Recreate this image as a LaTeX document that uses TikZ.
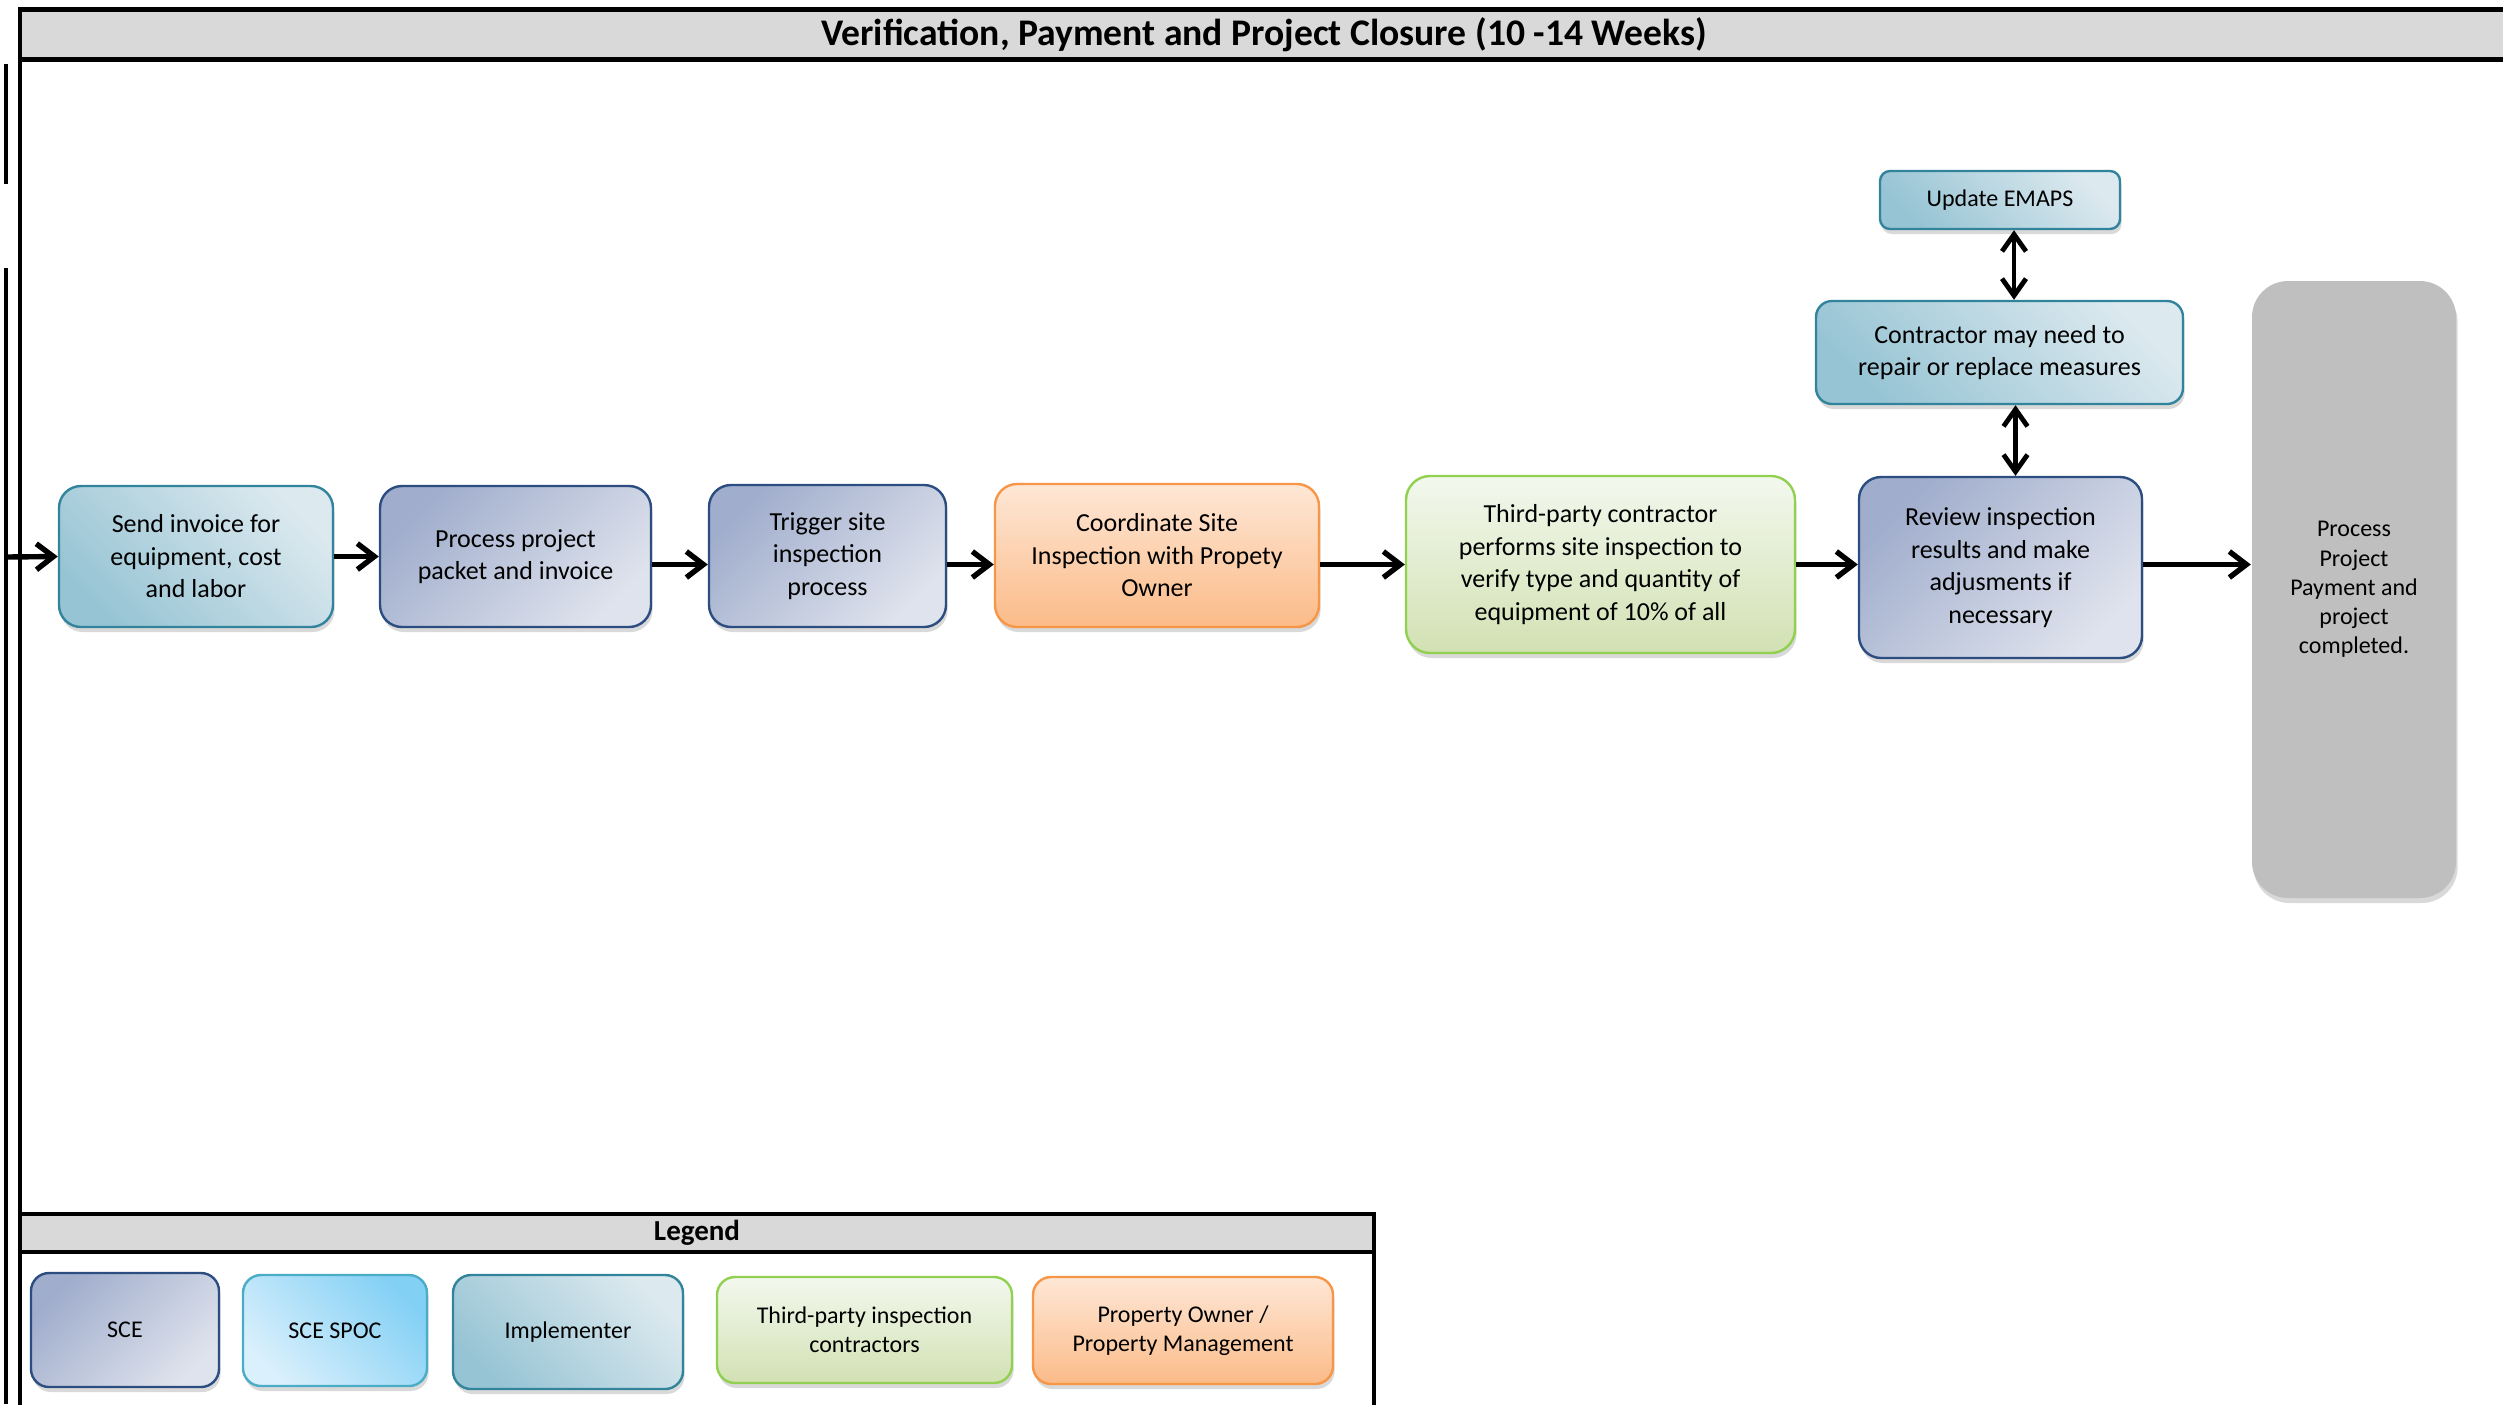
\documentclass[tikz,border=0pt]{standalone}
\usepackage{fontspec}
\setmainfont{Carlito}
\usetikzlibrary{arrows.meta,shadows,calc}
\definecolor{sceB}{HTML}{2C4D7F}
\definecolor{sceD}{HTML}{A0ADCC}
\definecolor{sceL}{HTML}{DFE3ED}
\definecolor{impB}{HTML}{31849B}
\definecolor{impD}{HTML}{97C4D4}
\definecolor{impL}{HTML}{DCE9EF}
\definecolor{spB}{HTML}{4BACC6}
\definecolor{spD}{HTML}{83D0F5}
\definecolor{spL}{HTML}{DAF0FC}
\definecolor{grnB}{HTML}{92D050}
\definecolor{grnT}{HTML}{F3F8EE}
\definecolor{grnL}{HTML}{D2E1B3}
\definecolor{orgB}{HTML}{F79646}
\definecolor{orgT}{HTML}{FEE7D6}
\definecolor{orgL}{HTML}{FBBB88}
\definecolor{grayBox}{HTML}{BFBFBF}
\definecolor{hdr}{HTML}{D9D9D9}
\begin{document}
\begin{tikzpicture}[x=0.5pt,y=-0.5pt,
  box/.style={rounded corners=11pt, line width=1.2pt, inner sep=0pt, align=center,
    font=\fontsize{13}{16.25}\selectfont,
    drop shadow={shadow xshift=0.8pt, shadow yshift=-2.5pt, opacity=0.3}},
  lbox/.style={box, rounded corners=9pt, font=\fontsize{12}{14.5}\selectfont},
  sce/.style={draw=sceB, top color=sceD, bottom color=sceL, shading angle=45},
  imp/.style={draw=impB, top color=impL, bottom color=impD, shading angle=-45},
  spoc/.style={draw=spB, top color=spD, bottom color=spL, shading angle=-45},
  grn/.style={draw=grnB, top color=grnT, bottom color=grnL},
  org/.style={draw=orgB, top color=orgT, bottom color=orgL},
  arr/.style={line width=2.7pt, -{Straight Barb[length=8.5pt, width=13pt]}},
  darr/.style={line width=2.4pt, {Straight Barb[length=8.5pt, width=12pt]}-{Straight Barb[length=8.5pt, width=12pt]}},
  frame/.style={line width=2.3pt},
]
\useasboundingbox (0,0) rectangle (2503,1404);

% lane frame
\node[frame, draw, fill=hdr, minimum width=1244pt, minimum height=25pt, inner sep=0pt,
  font=\bfseries\fontsize{18.8}{22}\selectfont] (title) at (1264,34.5)
  {\raisebox{-0.6pt}{Verification, Payment and Project Closure (10 -14 Weeks)}};
\draw[frame] (20,59.5) -- (20,1404);
\draw[line width=2pt] (6,64) -- (6,184);
\draw[line width=2pt] (6,268) -- (6,1404);

% process row
\node[box, imp, minimum width=137pt, minimum height=70.5pt] (b1) at (196,556.5)
  {Send invoice for\\equipment, cost\\and labor};
\node[box, sce, minimum width=135.5pt, minimum height=70.5pt] (b2) at (515.5,556.5)
  {Process project\\packet and invoice};
\node[box, sce, minimum width=118.5pt, minimum height=71pt] (b3) at (827.5,556)
  {Trigger site\\inspection\\process};
\node[box, org, minimum width=162pt, minimum height=71.5pt] (b4) at (1157,555.5)
  {Coordinate Site\\Inspection with Propety\\Owner};
\node[box, grn, rounded corners=12pt, minimum width=194.5pt, minimum height=88.5pt] (b5) at (1600.5,564.5)
  {Third-party contractor\\performs site inspection to\\verify type and quantity of\\equipment of 10\% of all};
\node[box, sce, minimum width=141.5pt, minimum height=90.5pt] (b6) at (2000.5,567.5)
  {Review inspection\\results and make\\adjusments if\\necessary};
\node[box, draw=none, fill=grayBox, rounded corners=18pt, minimum width=102pt, minimum height=308.5pt,
  font=\fontsize{12}{14.6}\selectfont] (b7) at (2354,589.5)
  {Process\\Project\\Payment and\\project\\completed.};
\node[box, imp, rounded corners=8pt, minimum width=183.5pt, minimum height=51.5pt] (cont) at (1999.5,352.5)
  {Contractor may need to\\repair or replace measures};
\node[box, imp, rounded corners=5pt, minimum width=120pt, minimum height=29pt,
  font=\fontsize{12}{14.6}\selectfont] (upd) at (2000,200) {Update EMAPS};

\coordinate (start) at (6,557);
\draw[arr] (start) -- (b1.west);
\draw[arr] (b1.east) -- (b2.west);
\draw[arr] (b2.east |- b5.west) -- (b3.west |- b5.west);
\draw[arr] (b3.east |- b5.west) -- (b4.west |- b5.west);
\draw[arr] (b4.east |- b5.west) -- (b5.west);
\draw[arr] (b5.east) -- (b6.west |- b5.east);
\draw[arr] (b6.east |- b5.east) -- (b7.west |- b5.east);
\draw[darr] ($(upd.south)+(14,0)$) -- ($(cont.north)+(14.5,0)$);
\draw[darr] ($(cont.south)+(16,0)$) -- ($(b6.north)+(15,0)$);

% legend
\draw[frame, fill=hdr] (20,1252) -- (20,1214) -- (1374,1214) -- (1374,1252) -- cycle;
\draw[frame] (20,1252) -- (20,1420) (1374,1252) -- (1374,1420);
\node[font=\bfseries\fontsize{14.5}{17}\selectfont] (legend) at (697,1233) {Legend};
\node[lbox, sce, minimum width=94pt, minimum height=57pt] (l1) at (125,1330) {SCE};
\node[lbox, spoc, minimum width=92pt, minimum height=55.5pt] (l2) at (335,1330.5) {SCE SPOC};
\node[lbox, imp, minimum width=115pt, minimum height=57pt] (l3) at (568,1332) {Implementer};
\node[lbox, grn, minimum width=147.5pt, minimum height=53pt] (l4) at (864.5,1330)
  {Third-party inspection\\contractors};
\node[lbox, org, minimum width=150pt, minimum height=53.5pt] (l5) at (1183,1330.5)
  {Property Owner /\\Property Management};
\end{tikzpicture}
\end{document}
